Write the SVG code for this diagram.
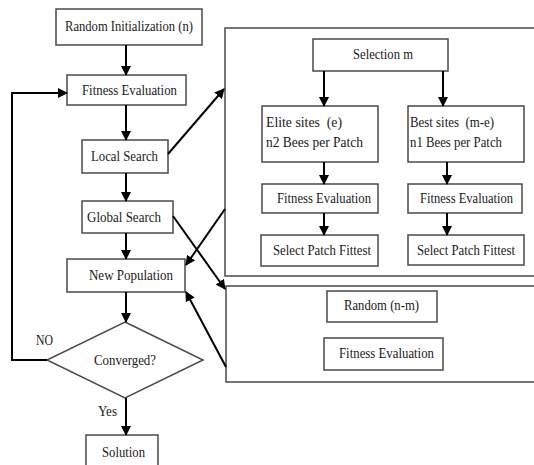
<svg xmlns="http://www.w3.org/2000/svg" width="534" height="465" viewBox="0 0 534 465">
<style>
.box{fill:#fff;stroke:#4a4a4a;stroke-width:1.5}
.frame{fill:none;stroke:#4a4a4a;stroke-width:1.5}
.t{font-family:"Liberation Serif","Times New Roman",serif;font-size:15px;fill:#1a1a1a}
.pre{white-space:pre}
.con path{fill:none;stroke:#000;stroke-width:2}
</style>
<defs>
<marker id="ah" viewBox="0 0 10 10" refX="9" refY="5" markerWidth="5" markerHeight="5" orient="auto" markerUnits="strokeWidth">
<path d="M0,0 L10,5 L0,10 z" fill="#000"/>
</marker>
</defs>
<rect width="534" height="465" fill="#fff"/>
<g id="frame-local"><rect class="frame" x="225" y="28" width="320" height="248"/></g>
<g id="frame-global"><rect class="frame" x="226" y="286" width="320" height="96"/></g>
<g id="n-init"><rect class="box" x="56" y="9" width="146" height="36"/><text class="t" x="65" y="31" textLength="128" lengthAdjust="spacingAndGlyphs">Random Initialization (n)</text></g>
<g id="n-fit"><rect class="box" x="67" y="75" width="119" height="30"/><text class="t" x="82" y="95" textLength="95" lengthAdjust="spacingAndGlyphs">Fitness Evaluation</text></g>
<g id="n-local"><rect class="box" x="82" y="140" width="86" height="33"/><text class="t" x="91" y="161" textLength="67" lengthAdjust="spacingAndGlyphs">Local Search</text></g>
<g id="n-global"><rect class="box" x="82" y="201" width="91" height="32"/><text class="t" x="87" y="222" textLength="74" lengthAdjust="spacingAndGlyphs">Global Search</text></g>
<g id="n-newpop"><rect class="box" x="67" y="259" width="118" height="33"/><text class="t" x="89" y="280" textLength="84" lengthAdjust="spacingAndGlyphs">New Population</text></g>
<g id="n-conv"><polygon class="box" points="125,322 203,360 125,398 47,360"/><text class="t" x="94" y="365" textLength="62" lengthAdjust="spacingAndGlyphs">Converged?</text></g>
<g id="n-sol"><rect class="box" x="86" y="435" width="72" height="32"/><text class="t" x="102" y="457" textLength="43" lengthAdjust="spacingAndGlyphs">Solution</text></g>
<g id="n-sel"><rect class="box" x="313" y="39" width="135" height="32"/><text class="t" x="353" y="59" textLength="60" lengthAdjust="spacingAndGlyphs">Selection m</text></g>
<g id="n-elite"><rect class="box" x="262" y="106" width="116" height="56"/><text class="t pre" x="266" y="127" textLength="76" lengthAdjust="spacingAndGlyphs">Elite sites  (e)</text><text class="t" x="266" y="147" textLength="97" lengthAdjust="spacingAndGlyphs">n2 Bees per Patch</text></g>
<g id="n-best"><rect class="box" x="408" y="106" width="116" height="56"/><text class="t pre" x="410" y="127" textLength="84" lengthAdjust="spacingAndGlyphs">Best sites  (m-e)</text><text class="t" x="410" y="147" textLength="92" lengthAdjust="spacingAndGlyphs">n1 Bees per Patch</text></g>
<g id="n-fitL"><rect class="box" x="262" y="184" width="116" height="29"/><text class="t" x="277" y="203" textLength="94" lengthAdjust="spacingAndGlyphs">Fitness Evaluation</text></g>
<g id="n-fitR"><rect class="box" x="408" y="184" width="114" height="29"/><text class="t" x="420" y="203" textLength="93" lengthAdjust="spacingAndGlyphs">Fitness Evaluation</text></g>
<g id="n-selL"><rect class="box" x="261" y="235" width="117" height="31"/><text class="t" x="273" y="255" textLength="98" lengthAdjust="spacingAndGlyphs">Select Patch Fittest</text></g>
<g id="n-selR"><rect class="box" x="408" y="235" width="116" height="30"/><text class="t" x="417" y="255" textLength="98" lengthAdjust="spacingAndGlyphs">Select Patch Fittest</text></g>
<g id="n-rand"><rect class="box" x="327" y="291" width="110" height="31"/><text class="t" x="344" y="310" textLength="75" lengthAdjust="spacingAndGlyphs">Random (n-m)</text></g>
<g id="n-fitG"><rect class="box" x="324" y="338" width="119" height="32"/><text class="t" x="339" y="358" textLength="95" lengthAdjust="spacingAndGlyphs">Fitness Evaluation</text></g>
<g id="labels"><text class="t" x="36" y="345" textLength="17" lengthAdjust="spacingAndGlyphs">NO</text><text class="t" x="98" y="416" textLength="19" lengthAdjust="spacingAndGlyphs">Yes</text></g>
<g id="connectors" class="con">
<path d="M126,45 V75" marker-end="url(#ah)"/>
<path d="M126,105 V140" marker-end="url(#ah)"/>
<path d="M126,173 V201" marker-end="url(#ah)"/>
<path d="M126,233 V259" marker-end="url(#ah)"/>
<path d="M126,292 V322" marker-end="url(#ah)"/>
<path d="M126,398 V435" marker-end="url(#ah)"/>
<path d="M47,360 H12 V93 H67" marker-end="url(#ah)"/>
<path d="M168,154 L224,89" marker-end="url(#ah)"/>
<path d="M173,216 L225,289" marker-end="url(#ah)"/>
<path d="M225,209 L186,265" marker-end="url(#ah)"/>
<path d="M226,367 L186,292" marker-end="url(#ah)"/>
<path d="M324,71 V106" marker-end="url(#ah)"/>
<path d="M443,71 V106" marker-end="url(#ah)"/>
<path d="M324,162 V184" marker-end="url(#ah)"/>
<path d="M447,162 V184" marker-end="url(#ah)"/>
<path d="M324,213 V235" marker-end="url(#ah)"/>
<path d="M447,213 V235" marker-end="url(#ah)"/>
</g>
</svg>
